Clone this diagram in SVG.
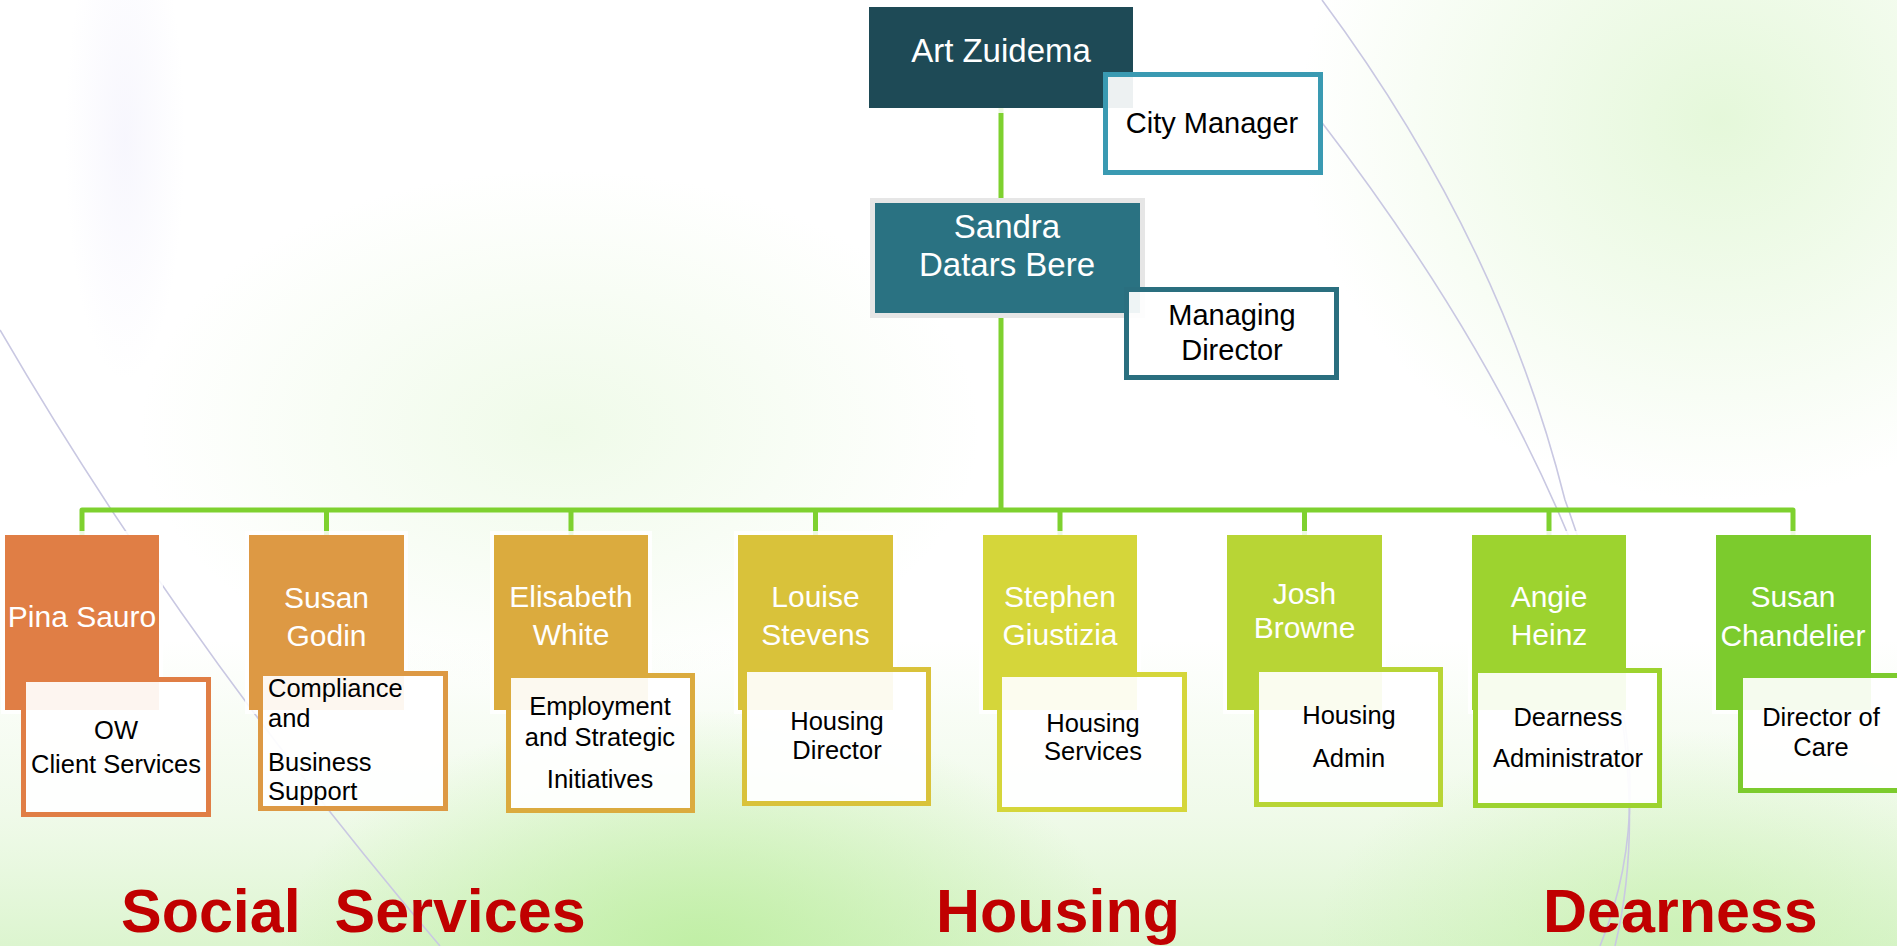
<svg xmlns="http://www.w3.org/2000/svg" width="1897" height="946" viewBox="0 0 1897 946">
<defs>
<linearGradient id="bottomWash" x1="0" y1="0" x2="0" y2="1">
<stop offset="0" stop-color="#e6f7dc" stop-opacity="0"/>
<stop offset="0.55" stop-color="#e6f7dc" stop-opacity="0.6"/>
<stop offset="1" stop-color="#dcf5cf" stop-opacity="1"/>
</linearGradient>
<radialGradient id="greenSpot" cx="0.5" cy="0.5" r="0.5">
<stop offset="0" stop-color="#bdeea0" stop-opacity="0.9"/>
<stop offset="1" stop-color="#bdeea0" stop-opacity="0"/>
</radialGradient>
<radialGradient id="greenSoft" cx="0.5" cy="0.5" r="0.5">
<stop offset="0" stop-color="#e2f7d6" stop-opacity="0.9"/>
<stop offset="1" stop-color="#e2f7d6" stop-opacity="0"/>
</radialGradient>
<radialGradient id="lavender" cx="0.5" cy="0.5" r="0.5">
<stop offset="0" stop-color="#e6e4fa" stop-opacity="0.9"/>
<stop offset="1" stop-color="#e6e4fa" stop-opacity="0"/>
</radialGradient>
<style>
.name{font-family:"Liberation Sans",Arial,sans-serif;font-size:30px;fill:#ffffff;text-anchor:middle}
.top{font-size:33px}
.sub{font-family:"Liberation Sans",Arial,sans-serif;font-size:25.5px;fill:#000000;text-anchor:middle}
.subTop{font-size:29px}
.left{text-anchor:start}
.halo{fill:#ffffff;fill-opacity:0.85}
.card{fill:#ffffff;fill-opacity:0.92;stroke-width:5}
.conn{fill:none;stroke:#7ed12f;stroke-width:5;stroke-linejoin:round}
.group{font-family:"Liberation Sans",Arial,sans-serif;font-weight:bold;font-size:61px;fill:#c00000}
.bgline{fill:none;stroke:#c9c8e2;stroke-width:1.6}
</style>
</defs>

<g id="background">
<rect x="0" y="0" width="1897" height="946" fill="#ffffff"/>
<ellipse cx="1720" cy="120" rx="420" ry="380" fill="url(#greenSoft)"/>
<ellipse cx="560" cy="430" rx="420" ry="260" fill="url(#greenSoft)" opacity="0.6"/>
<rect x="0" y="640" width="1897" height="306" fill="url(#bottomWash)"/>
<ellipse cx="700" cy="950" rx="420" ry="240" fill="url(#greenSpot)"/>
<ellipse cx="1680" cy="930" rx="360" ry="200" fill="url(#greenSpot)" opacity="0.6"/>
<ellipse cx="125" cy="140" rx="60" ry="240" fill="url(#lavender)" opacity="0.35"/>
<path class="bgline" d="M0,330 Q180,640 440,946"/>
<path class="bgline" d="M1320,120 Q1520,380 1600,620 Q1660,800 1600,946"/>
<path class="bgline" stroke="#cfe2d8" d="M1322,0 Q1500,240 1565,500 Q1660,760 1615,946"/>
</g>

<g id="connectors">
<path class="conn" d="M1001,108 V203"/>
<path class="conn" d="M1001,313 V510"/>
<path class="conn" d="M82,535 V510 H1793 V535"/>
<path class="conn" d="M326.5,510 V535 M571,510 V535 M815.5,510 V535 M1060,510 V535 M1304.5,510 V535 M1549,510 V535"/>
</g>

<g id="node-art-zuidema">
<rect class="halo" x="865" y="3" width="272" height="110"/>
<rect x="869" y="7" width="264" height="101" fill="#1e4a56"/>
<text class="name top" x="1001" y="62">Art Zuidema</text>
</g>
<g id="node-city-manager">
<rect class="card" x="1105.5" y="74.5" width="215" height="98" stroke="#3a9ab2"/>
<text class="sub subTop" x="1212" y="133">City Manager</text>
</g>

<g id="node-sandra">
<rect x="870" y="198" width="275" height="120" fill="#e6e6e6"/>
<rect x="875" y="203" width="265" height="110" fill="#2a7282"/>
<text class="name top" x="1007" y="238">Sandra</text>
<text class="name top" x="1007" y="276">Datars Bere</text>
</g>
<g id="node-managing-director">
<rect class="card" x="1126.5" y="289.5" width="210" height="88" stroke="#2a6f7f"/>
<text class="sub subTop" x="1232" y="325">Managing</text>
<text class="sub subTop" x="1232" y="360">Director</text>
</g>

<g id="node-pina-sauro">
<rect class="halo" x="1" y="531" width="162" height="183"/>
<rect x="5" y="535" width="154" height="175" fill="#e07e45"/>
<text class="name" x="82" y="627">Pina Sauro</text>
<rect class="card" x="23.5" y="679.5" width="185" height="135" stroke="#e07e45"/>
<text class="sub" x="116" y="739">OW</text>
<text class="sub" x="116" y="773">Client Services</text>
</g>

<g id="node-susan-godin">
<rect class="halo" x="245" y="531" width="163" height="183"/>
<rect x="249" y="535" width="155" height="175" fill="#dd9944"/>
<text class="name" x="326.5" y="608">Susan</text>
<text class="name" x="326.5" y="646">Godin</text>
<rect class="card" x="260.5" y="673.5" width="185" height="135" stroke="#dd9944"/>
<text class="sub left" x="268" y="697">Compliance</text>
<text class="sub left" x="268" y="727">and</text>
<text class="sub left" x="268" y="771">Business</text>
<text class="sub left" x="268" y="800">Support</text>
</g>

<g id="node-elisabeth-white">
<rect class="halo" x="490" y="531" width="162" height="183"/>
<rect x="494" y="535" width="154" height="175" fill="#dbab3e"/>
<text class="name" x="571" y="607">Elisabeth</text>
<text class="name" x="571" y="645">White</text>
<rect class="card" x="508.5" y="675.5" width="184" height="135" stroke="#dbab3e"/>
<text class="sub" x="600" y="715">Employment</text>
<text class="sub" x="600" y="746">and Strategic</text>
<text class="sub" x="600" y="788">Initiatives</text>
</g>

<g id="node-louise-stevens">
<rect class="halo" x="734" y="531" width="163" height="183"/>
<rect x="738" y="535" width="155" height="175" fill="#d9c23a"/>
<text class="name" x="815.5" y="607">Louise</text>
<text class="name" x="815.5" y="645">Stevens</text>
<rect class="card" x="744.5" y="669.5" width="184" height="134" stroke="#d9c23a"/>
<text class="sub" x="837" y="730">Housing</text>
<text class="sub" x="837" y="759">Director</text>
</g>

<g id="node-stephen-giustizia">
<rect class="halo" x="979" y="531" width="162" height="183"/>
<rect x="983" y="535" width="154" height="175" fill="#d5d63a"/>
<text class="name" x="1060" y="607">Stephen</text>
<text class="name" x="1060" y="645">Giustizia</text>
<rect class="card" x="999.5" y="674.5" width="185" height="135" stroke="#d5d63a"/>
<text class="sub" x="1093" y="732">Housing</text>
<text class="sub" x="1093" y="760">Services</text>
</g>

<g id="node-josh-browne">
<rect class="halo" x="1223" y="531" width="163" height="183"/>
<rect x="1227" y="535" width="155" height="175" fill="#b8d535"/>
<text class="name" x="1304.5" y="604">Josh</text>
<text class="name" x="1304.5" y="638">Browne</text>
<rect class="card" x="1256.5" y="669.5" width="184" height="135" stroke="#b8d535"/>
<text class="sub" x="1349" y="724">Housing</text>
<text class="sub" x="1349" y="767">Admin</text>
</g>

<g id="node-angie-heinz">
<rect class="halo" x="1468" y="531" width="162" height="183"/>
<rect x="1472" y="535" width="154" height="175" fill="#9dd32f"/>
<text class="name" x="1549" y="607">Angie</text>
<text class="name" x="1549" y="645">Heinz</text>
<rect class="card" x="1475.5" y="670.5" width="184" height="135" stroke="#9dd32f"/>
<text class="sub" x="1568" y="726">Dearness</text>
<text class="sub" x="1568" y="767">Administrator</text>
</g>

<g id="node-susan-chandelier">
<rect class="halo" x="1712" y="531" width="162" height="183"/>
<rect x="1716" y="535" width="155" height="175" fill="#7ccb2d"/>
<text class="name" x="1793" y="607">Susan</text>
<text class="name" x="1793" y="646">Chandelier</text>
<rect class="card" x="1740.5" y="675.5" width="190" height="115" stroke="#7ccb2d"/>
<text class="sub" x="1821" y="726">Director of</text>
<text class="sub" x="1821" y="756">Care</text>
</g>

<g id="group-labels">
<text class="group" x="121" y="932" xml:space="preserve">Social  Services</text>
<text class="group" x="936" y="932">Housing</text>
<text class="group" x="1543" y="932">Dearness</text>
</g>
</svg>
